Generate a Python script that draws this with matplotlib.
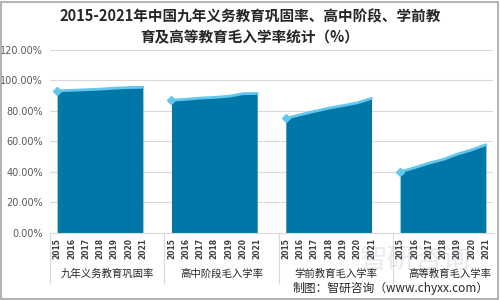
import matplotlib.pyplot as plt
import matplotlib.transforms as mtransforms
from matplotlib.patches import Rectangle
import numpy as np

plt.rcParams['font.family'] = ['Noto Sans CJK SC', 'DejaVu Sans']

# data (%)
years = ["2015", "2016", "2017", "2018", "2019", "2020", "2021"]
groups = ["九年义务教育巩固率", "高中阶段毛入学率", "学前教育毛入学率", "高等教育毛入学率"]
compulsory = [93.0, 93.4, 93.8, 94.2, 94.8, 95.2, 95.4]
high_school = [87.0, 87.5, 88.3, 88.8, 89.5, 91.2, 91.4]
preschool = [75.0, 77.4, 79.6, 81.7, 83.4, 85.2, 88.1]
higher_edu = [40.0, 42.7, 45.7, 48.1, 51.6, 54.4, 57.8]
series = [compulsory, high_school, preschool, higher_edu]

fill_color = "#0077A6"
line_color = "#62C6EE"

fig = plt.figure(figsize=(5, 3), dpi=100)
ax = fig.add_axes([0.1, 0.2233, 0.886, 0.611])

step = len(years) + 1
for g, vals in enumerate(series):
    x = np.arange(len(years)) + g * step
    ax.fill_between(x, 0, vals, color=fill_color, lw=0, zorder=2)
    ax.plot(x, vals, color=line_color, lw=2, zorder=3, solid_capstyle="round")
    ax.plot(x[0], vals[0], marker="D", ms=4.5, color=line_color, zorder=4)

n = step * len(groups) - 1
ax.set_xlim(-0.5, n - 0.5)
ax.set_ylim(0, 120)
ax.set_yticks(np.arange(0, 121, 20))
ax.set_yticklabels([f"{v:.2f}%" for v in np.arange(0, 121, 20)], fontsize=7,
                   color="#595959", family="DejaVu Sans")
ax.tick_params(axis="y", length=0, pad=5)
ax.set_xticks([])
ax.grid(axis="y", color="#D9D9D9", lw=0.8, zorder=0)
for s in ["top", "right", "left"]:
    ax.spines[s].set_visible(False)
ax.spines["bottom"].set_color("#D9D9D9")

# multi-level category axis
trans = mtransforms.blended_transform_factory(ax.transData, ax.transAxes)
for g, name in enumerate(groups):
    for i, yr in enumerate(years):
        ax.text(g * step + i, -0.027, yr, transform=trans, rotation=90,
                ha="center", va="top", fontsize=5.5, color="#404040",
                fontweight="bold", family="DejaVu Sans")
    ax.text(g * step + 3.5, -0.224, name, transform=trans, ha="center", va="center",
            fontsize=7.5, color="#262626")
    ax.plot([g * step - 0.5] * 2, [0, -0.27], transform=trans, color="#D9D9D9",
            lw=0.8, clip_on=False)

fig.text(0.5, 0.945, "2015-2021年中国九年义务教育巩固率、高中阶段、学前教",
         ha="center", va="center", fontsize=10.5, fontweight="bold", color="#262626")
fig.text(0.5, 0.877, "育及高等教育毛入学率统计（%）",
         ha="center", va="center", fontsize=10.5, fontweight="bold", color="#262626")

# watermark
fig.text(0.83, 0.135, "智研咨询", ha="center", va="center", fontsize=20,
         color="#7F8FA6", alpha=0.18, zorder=0)

fig.text(0.978, 0.037, "制图：智研咨询（www.chyxx.com）", ha="right", va="center",
         fontsize=8.5, color="#262626")

fig.patches.append(Rectangle((0.002, 0.005), 0.994, 0.99, transform=fig.transFigure,
                             fill=False, edgecolor="#A6A6A6", lw=1.2))

fig.savefig("out.png", dpi=100)
